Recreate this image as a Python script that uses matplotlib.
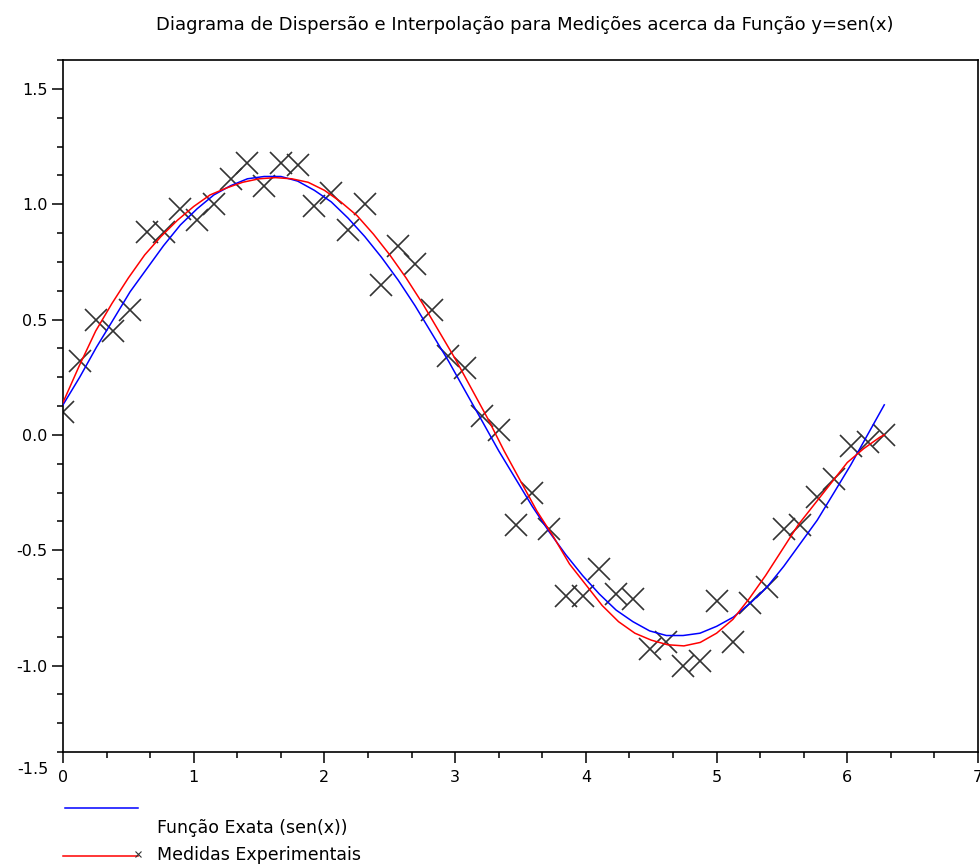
import numpy as np
import matplotlib
matplotlib.use("Agg")
import matplotlib.pyplot as plt
from matplotlib.ticker import MultipleLocator, FormatStrFormatter
from matplotlib.lines import Line2D

# medições (x igualmente espaçado de 0 a 2*pi, 50 pontos)
x_med = [0.000, 0.128, 0.256, 0.385, 0.513, 0.641, 0.769, 0.898, 1.026, 1.154,
         1.282, 1.411, 1.539, 1.667, 1.795, 1.923, 2.052, 2.180, 2.308, 2.436,
         2.565, 2.693, 2.821, 2.949, 3.077, 3.206, 3.334, 3.462, 3.590, 3.719,
         3.847, 3.975, 4.103, 4.232, 4.360, 4.488, 4.616, 4.744, 4.873, 5.001,
         5.129, 5.257, 5.386, 5.514, 5.642, 5.770, 5.899, 6.027, 6.155, 6.283]
y_med = [0.10, 0.32, 0.50, 0.45, 0.54, 0.88, 0.88, 0.98, 0.93, 1.00,
         1.11, 1.18, 1.08, 1.18, 1.17, 0.99, 1.05, 0.89, 1.00, 0.65,
         0.82, 0.74, 0.54, 0.34, 0.29, 0.08, 0.02, -0.39, -0.25, -0.41,
         -0.70, -0.70, -0.58, -0.69, -0.71, -0.93, -0.90, -1.00, -0.98, -0.72,
         -0.90, -0.73, -0.66, -0.41, -0.39, -0.27, -0.19, -0.05, -0.03, 0.00]

# curva exata (azul), lida no gráfico nos mesmos x
y_exata = [0.13, 0.25, 0.38, 0.50, 0.62, 0.72, 0.82, 0.91, 0.98, 1.04,
           1.08, 1.11, 1.12, 1.12, 1.10, 1.06, 1.01, 0.94, 0.86, 0.77,
           0.67, 0.56, 0.44, 0.32, 0.19, 0.06, -0.07, -0.19, -0.31, -0.42,
           -0.52, -0.61, -0.69, -0.76, -0.81, -0.85, -0.87, -0.87, -0.86, -0.83,
           -0.79, -0.73, -0.66, -0.57, -0.47, -0.37, -0.25, -0.13, 0.00, 0.13]

# interpolação (vermelho)
x_interp = [0.000, 0.125, 0.250, 0.375, 0.500, 0.625, 0.750, 0.875, 1.000, 1.125,
            1.250, 1.375, 1.500, 1.625, 1.750, 1.875, 2.000, 2.125, 2.250, 2.375,
            2.500, 2.625, 2.750, 2.875, 3.000, 3.125, 3.250, 3.375, 3.500, 3.625,
            3.750, 3.875, 4.000, 4.125, 4.250, 4.375, 4.500, 4.625, 4.750, 4.875,
            5.000, 5.125, 5.250, 5.375, 5.500, 5.625, 5.750, 5.875, 6.000, 6.125,
            6.250, 6.283]
y_interp = [0.14, 0.30, 0.45, 0.57, 0.68, 0.78, 0.86, 0.93, 0.99, 1.04,
            1.07, 1.095, 1.11, 1.115, 1.11, 1.095, 1.06, 1.01, 0.95, 0.87,
            0.78, 0.68, 0.57, 0.45, 0.33, 0.20, 0.07, -0.07, -0.20, -0.33,
            -0.44, -0.56, -0.65, -0.74, -0.81, -0.86, -0.89, -0.91, -0.915, -0.90,
            -0.86, -0.80, -0.71, -0.61, -0.50, -0.39, -0.30, -0.21, -0.12, -0.06,
            -0.01, 0.00]

plt.rcParams['font.family'] = ['DejaVu Sans']
plt.rcParams['axes.unicode_minus'] = False

fig = plt.figure(figsize=(9.8, 8.66), dpi=100)
ax = fig.add_axes([63/980, 1 - 752/866, 915/980, 692/866])

ax.plot(x_med, y_med, 'x', color='#333333', ms=16, mew=1.2, zorder=2)
ax.plot(x_med, y_exata, color='#0000ff', lw=1.1, zorder=3)
ax.plot(x_interp, y_interp, color='#ff0000', lw=1.1, zorder=4)

ax.set_xlim(0, 7)
ax.set_ylim(-1.375, 1.625)
ax.xaxis.set_major_locator(MultipleLocator(1))
ax.xaxis.set_minor_locator(MultipleLocator(1/3))
ax.yaxis.set_major_locator(MultipleLocator(0.5))
ax.yaxis.set_minor_locator(MultipleLocator(0.125))
ax.yaxis.set_major_formatter(FormatStrFormatter('%.1f'))
ax.tick_params(which='major', length=8, width=1.1, labelsize=11.5, direction='out')
ax.tick_params(which='minor', length=4, width=1.1, direction='out')
ax.tick_params(axis='x', which='major', pad=5)
ax.tick_params(axis='y', which='major', pad=3)
for s in ax.spines.values():
    s.set_linewidth(1.2)

# rótulo -1.5 fora do eixo, como no original
ax.text(-0.11, -1.452, '-1.5', ha='right', va='center', fontsize=11.5, clip_on=False)

fig.text(525/980, 1 - 25/866,
         'Diagrama de Dispersão e Interpolação para Medições acerca da Função y=sen(x)',
         fontsize=13, ha='center', va='center')

# legenda abaixo do gráfico
fig.add_artist(Line2D([65/980, 138/980], [1 - 808/866, 1 - 808/866], color='#0000ff', lw=1.1))
fig.add_artist(Line2D([63/980, 138/980], [1 - 856/866, 1 - 856/866], color='#ff0000', lw=1.1))
fig.add_artist(Line2D([138/980], [1 - 854/866], color='#333333', marker='x', ms=4, mew=0.8))
fig.text(157/980, 1 - 828/866, 'Função Exata (sen(x))', fontsize=12.5, va='center')
fig.text(157/980, 1 - 855/866, 'Medidas Experimentais', fontsize=12.5, va='center')

fig.savefig('out.png', dpi=100)
